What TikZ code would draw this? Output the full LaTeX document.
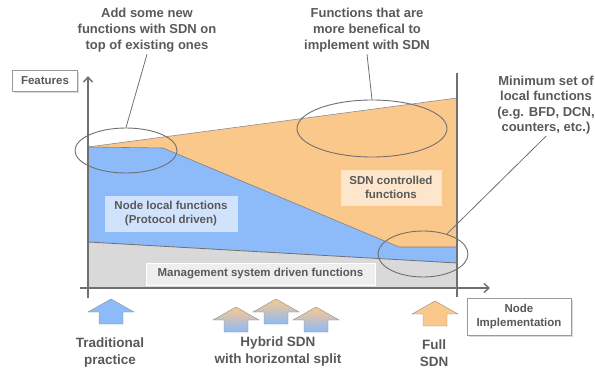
\documentclass[tikz,border=0pt]{standalone}
\usepackage{fontspec}
\setmainfont{Liberation Sans}
\usetikzlibrary{shapes.geometric,shadows,arrows.meta}

\definecolor{nodeblue}{RGB}{141,186,248}
\definecolor{sdnorange}{RGB}{251,200,140}
\definecolor{mgmtgray}{RGB}{217,217,217}
\definecolor{txtgray}{RGB}{89,89,89}
\definecolor{linegray}{RGB}{112,112,112}

\tikzset{
  callout/.style={font=\fontsize{13}{16}\selectfont\bfseries, text=txtgray, align=center, inner sep=2pt},
  arrlabel/.style={font=\fontsize{13.5}{17}\selectfont\bfseries, text=txtgray, align=center},
  region/.style={font=\fontsize{11.5}{14}\selectfont\bfseries, text=txtgray, align=center, inner sep=0pt},
  axisbox/.style={region, draw=linegray!70, fill=white, drop shadow={shadow xshift=1.5pt, shadow yshift=-1.5pt, opacity=.3}},
  ring/.style={ellipse, draw=linegray, line width=.9pt, inner sep=0pt},
  axis/.style={linegray, line width=1.4pt},
  blockup/.pic={
    \path[pic actions] (0,0) -- (23,13) -- (12,13) -- (12,25) -- (-12,25) -- (-12,13) -- (-23,13) -- cycle;
  }
}

\begin{document}
\begin{tikzpicture}[x=1pt,y=-1pt]
\useasboundingbox (0,0) rectangle (595,369);
\coordinate (O) at (88,288); \coordinate (R) at (457,288);
\coordinate (TL) at (88,147); \coordinate (TR) at (457,98);
\coordinate (B1) at (163,148); \coordinate (B2) at (399,247); \coordinate (B3) at (457,247);
\coordinate (GL) at (88,242); \coordinate (GR) at (457,263);
% filled areas
\fill[mgmtgray] (GL)--(GR)--(R)--(O)--cycle;
\fill[nodeblue] (TL)--(B1)--(B2)--(B3)--(GR)--(GL)--cycle;
\fill[sdnorange] (TL)--(TR)--(B3)--(B2)--(B1)--cycle;
\draw[linegray!80, line width=.6pt] (TL)--(TR);
\draw[linegray!80!nodeblue, line width=.6pt] (TL)--(B1)--(B2)--(B3);
\draw[linegray, line width=.8pt] (GL)--(GR);
% axes
\draw[axis, -{Straight Barb[length=5pt,width=9pt]}] (88,298) -- (88,76);
\draw[axis, -{Straight Barb[length=5pt,width=9pt]}] (80,288) -- (490,288);
\draw[axis] (457,73) -- (457,297);
\node[axisbox, minimum width=65pt, minimum height=21pt] (feat) at (45,81) {Features};
\node[axisbox, minimum width=104pt, minimum height=37pt] (impl) at (519,316.5) {Node\\Implementation};
% region labels
\node[region, fill=nodeblue!40!white, draw=white!60!nodeblue, minimum width=132pt, minimum height=35pt] (local) at (171,213.5) {Node local functions\\(Protocol driven)};
\node[region, fill=sdnorange!45!white, draw=white!50!sdnorange, minimum width=100pt, minimum height=35pt] (ctrl) at (391,187.5) {SDN controlled\\functions};
\node[region, fill=mgmtgray!45!white, draw=white, minimum width=229pt, minimum height=22pt] (mgmt) at (260.5,274) {Management system driven functions};
% rings and callouts
\node[ring, minimum width=102pt, minimum height=45pt] (ringAdd) at (126,150.5) {};
\node[ring, minimum width=150pt, minimum height=57pt] (ringMore) at (372,128.5) {};
\node[ring, minimum width=90pt, minimum height=46pt] (ringMin) at (423,254) {};
\node[callout] (addTxt) at (147,30) {Add some new\\functions with SDN on\\top of existing ones};
\node[callout] (moreTxt) at (367,30) {Functions that are\\more benefical to\\implement with SDN};
\node[callout, font=\fontsize{13}{15.3}\selectfont\bfseries] (minTxt) at (546,105) {Minimum set of\\local functions\\(e.g. BFD, DCN,\\counters, etc.)};
\draw[linegray, line width=.8pt] (ringAdd.north) -- (addTxt.south);
\draw[linegray, line width=.8pt] (ringMore.north) -- (moreTxt.south);
\draw[linegray, line width=.8pt] (ringMin.40) -- (minTxt.south);
% deployment arrows
\pic[draw=linegray!80, fill=nodeblue] at (111,299) {blockup};
\pic[draw=linegray!80, top color=sdnorange, middle color=white!65!nodeblue, bottom color=nodeblue] at (236,307) {blockup};
\pic[draw=linegray!80, top color=sdnorange, middle color=white!65!nodeblue, bottom color=nodeblue] at (276,299) {blockup};
\pic[draw=linegray!80, top color=sdnorange, middle color=white!65!nodeblue, bottom color=nodeblue] at (316,307) {blockup};
\pic[draw=linegray!80, fill=sdnorange] at (435,301) {blockup};
\node[arrlabel] (trad) at (110,353) {Traditional\\practice};
\node[arrlabel] (hyb) at (278,352) {Hybrid SDN\\with horizontal split};
\node[arrlabel] (full) at (434,353) {Full\\SDN};
\end{tikzpicture}
\end{document}
